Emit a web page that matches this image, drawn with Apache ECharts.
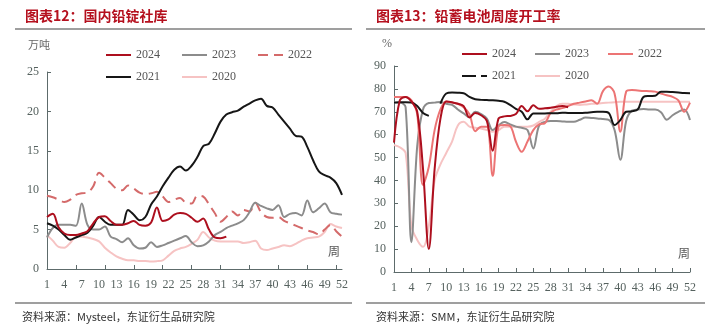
<!DOCTYPE html>
<html>
<head>
<meta charset="utf-8">
<script src="https://cdn.jsdelivr.net/npm/echarts@6.0.0/dist/echarts.min.js"></script>
<style>
  html, body { margin: 0; padding: 0; background: #ffffff; }
  #chart { width: 716px; height: 336px; }
</style>
</head>
<body>
<div id="chart"></div>
<script>
// Week numbers shared by both panels
const weeks = ['1','2','3','4','5','6','7','8','9','10','11','12','13','14','15','16','17','18','19','20',
  '21','22','23','24','25','26','27','28','29','30','31','32','33','34','35','36','37','38','39','40',
  '41','42','43','44','45','46','47','48','49','50','51','52'];

// Panel 12: domestic lead ingot social inventory (10k tonnes)
const stock2024 = [6.6,7.0,5.3,4.5,4.3,4.3,4.5,4.8,5.8,6.6,6.7,6.1,5.6,5.6,5.8,6.1,5.6,5.5,5.9,7.8,
  6.1,6.3,6.9,7.1,7.0,6.5,6.0,6.4,5.0,4.0,3.9,4.1,null,null,null,null,null,null,null,null,
  null,null,null,null,null,null,null,null,null,null,null,null];
const stock2023 = [4.0,5.2,5.6,5.6,5.6,5.5,8.3,5.6,5.0,5.0,5.4,4.1,3.8,3.4,3.9,3.0,2.6,2.7,3.4,2.8,
  3.0,3.3,3.6,3.9,4.2,3.4,2.9,3.0,3.5,4.3,4.7,5.2,5.5,5.8,6.2,7.2,8.4,8.0,7.7,7.5,
  8.1,6.6,7.0,7.1,6.8,8.7,7.2,7.7,8.3,7.2,7.0,6.9];
const stock2022 = [9.3,9.1,8.8,8.5,8.8,9.4,9.6,9.7,10.5,12.2,11.6,10.9,10.2,10.0,10.6,10.2,9.7,9.5,9.6,9.8,
  9.2,8.5,8.8,9.0,8.4,8.3,9.3,9.2,8.2,7.1,6.0,6.6,7.3,6.8,7.5,7.3,8.4,7.2,6.6,6.5,
  6.6,6.1,5.8,5.5,5.2,4.9,4.7,4.4,5.0,5.6,4.8,4.1];
const stock2021 = [5.8,5.5,5.0,4.3,3.7,4.0,4.3,4.6,5.5,6.6,6.0,5.6,5.6,5.6,7.5,6.9,6.2,6.6,8.2,9.2,
  10.5,11.6,12.6,13.0,12.5,13.1,14.2,15.6,15.9,17.2,18.7,19.6,19.9,20.1,20.6,21.0,21.4,21.6,20.7,20.5,
  19.6,18.7,17.8,16.9,16.8,15.5,13.8,12.4,11.9,11.6,10.9,9.4];
const stock2020 = [4.3,3.6,2.8,2.7,3.3,4.1,4.1,4.0,3.8,3.5,2.7,2.1,1.6,1.3,1.1,1.1,1.0,1.0,0.95,1.0,
  1.1,1.7,2.3,2.6,2.8,3.2,3.7,4.7,4.0,3.6,3.5,3.5,3.5,3.5,3.3,3.4,3.6,2.6,2.4,2.6,
  2.8,3.0,2.9,3.2,3.6,3.9,4.0,4.1,4.7,5.7,5.4,5.2];

// Panel 13: lead-acid battery weekly operating rate (%)
const rate2024 = [56.5,75,76.5,74.5,70,45,10,45,67,74.5,74.2,73.5,72.5,67.5,69.5,68.5,66,53,67,68,
  68.2,69,72.5,70.2,72.8,71.3,71.5,71.8,72.2,72.5,72.0,null,null,null,null,null,null,null,null,null,
  null,null,null,null,null,null,null,null,null,null,null,null];
const rate2023 = [74,74,72,13,55,71,73.8,74,74.3,73.5,73,71,69.3,67.6,70,69,67,62,64,65.5,
  64.5,63.5,63,62,54,64,65.6,66,66,65.8,65.6,65.6,66.5,67.5,67.3,67.1,66.8,66.5,62,49,
  66,70.5,71,71.2,71,71,69.8,66.5,68.5,70,71,66.4];
const rate2022 = [76.5,76.5,76.5,75,69,38,46,62,71,74.5,74,73.5,72,69,61.5,63.5,63.5,42,63.5,64.2,
  63.8,57,52.5,57,62,64.5,65,69.5,71,71.6,72.5,73.5,74,74.5,75,73.5,79,81,78,61.3,
  78.8,79.5,79.3,79.1,79,78.8,78,77.2,76.5,75,70,74];
const rate2021 = [74,74.2,74.2,74.1,72.5,69.5,68.2,null,73.5,78,78.4,78.3,78.1,76.5,75.5,75.2,75.1,75,74.8,74.4,
  73,71.3,70,66.7,69.3,69.3,69.3,69.4,69.4,69.6,69.5,69.5,69.5,69.6,69.8,70,70,69.5,64.2,66.4,
  70,70.2,71,76.5,76.9,77,78.8,78.8,78.6,78.4,78.2,78.1];
const rate2020 = [55.5,54.5,52,20,14,11,20,40,47,52,57,64,65.6,63.5,63,62.7,62,61.3,62,63.5,
  63.5,63.5,63.5,63.5,64,65.6,67,70,72.5,73.5,73.5,73.2,73,73.2,73.5,73.6,73.8,74,74.2,74.4,
  74.4,74.4,74.4,74.4,74.4,74.4,74.4,74.4,74.4,74.4,74.4,74.4];

const C_2024 = '#ad0f1e';
const C_2023 = '#8c8c8c';
const C_2022L = '#d46a6a';
const C_2022R = '#ec7474';
const C_2021 = '#161616';
const C_2020 = '#f6c3c3';

const axisColor = '#5d6b6b';
const labelColor = '#56625f';
const serif = '"Liberation Serif", "DejaVu Serif", serif';
const cjk = '"Noto Sans CJK SC", sans-serif';

function line(name, data, color, gridIdx, extra) {
  return Object.assign({
    name: name,
    type: 'line',
    data: data,
    xAxisIndex: gridIdx,
    yAxisIndex: gridIdx,
    symbol: 'none',
    smooth: 0.35,
    connectNulls: false,
    lineStyle: { color: color, width: 2 },
    itemStyle: { color: color },
    emphasis: { disabled: true }
  }, extra || {});
}

function xAxisCfg(gridIdx, tickInterval) {
  return {
    type: 'category', gridIndex: gridIdx, data: weeks, boundaryGap: false,
    axisLine: { show: true, lineStyle: { color: axisColor, width: 1 } },
    axisTick: { show: true, inside: true, length: 4, interval: tickInterval, lineStyle: { color: axisColor } },
    axisLabel: { interval: 2, color: labelColor, fontFamily: serif, fontSize: 12, margin: 10 },
    splitLine: { show: false }
  };
}

function yAxisCfg(gridIdx, max, interval) {
  return {
    type: 'value', gridIndex: gridIdx, min: 0, max: max, interval: interval,
    axisLine: { show: true, lineStyle: { color: axisColor, width: 1 } },
    axisTick: { show: true, inside: true, length: 4, lineStyle: { color: axisColor } },
    axisLabel: { color: labelColor, fontFamily: serif, fontSize: 12, margin: 8 },
    splitLine: { show: false }
  };
}

const legendText = { color: '#555555', fontFamily: serif, fontSize: 12 };
const stripPrefix = n => n.slice(1);

// Legend rows show only the line sample (the marker is hidden)
function legendRow(names, left, top, gap) {
  return {
    data: names, left: left, top: top, orient: 'horizontal',
    itemWidth: 25, itemHeight: 10, itemGap: gap,
    itemStyle: { opacity: 0, borderWidth: 0 },
    textStyle: legendText, formatter: stripPrefix, selectedMode: false
  };
}

const chart = echarts.init(document.getElementById('chart'), null, { renderer: 'canvas' });

chart.setOption({
  backgroundColor: '#ffffff',
  animation: false,
  grid: [
    { left: 47, top: 72, width: 295, height: 197 },
    { left: 394, top: 66, width: 296, height: 206 }
  ],
  xAxis: [xAxisCfg(0, 4), xAxisCfg(1, 2)],
  yAxis: [yAxisCfg(0, 25, 5), yAxisCfg(1, 90, 10)],
  legend: [
    legendRow(['L2024', 'L2023', 'L2022'], 100, 44, 21),
    legendRow(['L2021', 'L2020'], 100, 66, 21),
    legendRow(['R2024', 'R2023', 'R2022'], 456, 43, 18),
    legendRow([{ name: 'R2021', lineStyle: { type: [14, 5, 7, 0] } }, 'R2020'], 456, 65, 18)
  ],
  series: [
    line('L2020', stock2020, C_2020, 0),
    line('L2022', stock2022, C_2022L, 0, { lineStyle: { color: C_2022L, width: 2, type: [10, 6] } }),
    line('L2023', stock2023, C_2023, 0),
    line('L2021', stock2021, C_2021, 0),
    line('L2024', stock2024, C_2024, 0),

    line('R2020', rate2020, C_2020, 1),
    line('R2023', rate2023, C_2023, 1),
    line('R2022', rate2022, C_2022R, 1),
    line('R2021', rate2021, C_2021, 1),
    line('R2024', rate2024, C_2024, 1)
  ],
  graphic: [
    // Panel titles and rules
    { type: 'text', left: 25, top: 9, style: { text: '图表12：国内铅锭社库', fill: '#b5101e', font: 'bold 14px ' + cjk } },
    { type: 'text', left: 376, top: 9, style: { text: '图表13：铅蓄电池周度开工率', fill: '#b5101e', font: 'bold 14px ' + cjk } },
    { type: 'line', shape: { x1: 15, y1: 29, x2: 352, y2: 29 }, style: { stroke: '#7f7f7f', lineWidth: 1.5 } },
    { type: 'line', shape: { x1: 366, y1: 29, x2: 705, y2: 29 }, style: { stroke: '#7f7f7f', lineWidth: 1.5 } },
    // Units
    { type: 'text', left: 28, top: 39, style: { text: '万吨', fill: '#666666', font: '11px ' + cjk } },
    { type: 'text', left: 382, top: 38, style: { text: '%', fill: '#666666', font: '12px ' + serif } },
    // Axis end labels
    { type: 'text', left: 328, top: 245, style: { text: '周', fill: '#555555', font: '12px ' + cjk } },
    { type: 'text', left: 678, top: 247, style: { text: '周', fill: '#555555', font: '12px ' + cjk } },
    // Footers
    { type: 'line', shape: { x1: 15, y1: 303, x2: 352, y2: 303 }, style: { stroke: '#7f7f7f', lineWidth: 1.5 } },
    { type: 'line', shape: { x1: 366, y1: 303, x2: 705, y2: 303 }, style: { stroke: '#7f7f7f', lineWidth: 1.5 } },
    { type: 'text', left: 22, top: 311, style: { text: '资料来源：Mysteel，东证衍生品研究院', fill: '#333333', font: '11px ' + cjk } },
    { type: 'text', left: 376, top: 311, style: { text: '资料来源：SMM，东证衍生品研究院', fill: '#333333', font: '11px ' + cjk } }
  ]
});
</script>
</body>
</html>
